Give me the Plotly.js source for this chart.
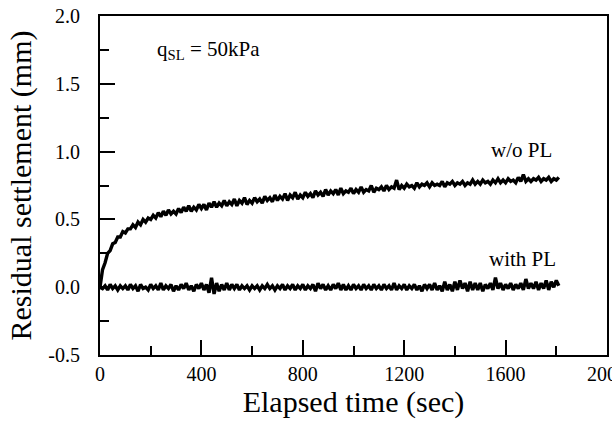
<!DOCTYPE html>
<html>
<head>
<meta charset="utf-8">
<script src="https://cdn.plot.ly/plotly-3.0.1.min.js"></script>
<style>html,body{margin:0;padding:0;background:#fff;}#chart{width:612px;height:421px;}</style>
</head>
<body>
<div id="chart"></div>
<script>
// Elapsed time (sec)
const timeSec = [
  0,10,20,30,40,50,60,70,80,90,
  100,110,120,130,140,150,160,170,180,190,
  200,210,220,230,240,250,260,270,280,290,
  300,310,320,330,340,350,360,370,380,390,
  400,410,420,430,440,450,460,470,480,490,
  500,510,520,530,540,550,560,570,580,590,
  600,610,620,630,640,650,660,670,680,690,
  700,710,720,730,740,750,760,770,780,790,
  800,810,820,830,840,850,860,870,880,890,
  900,910,920,930,940,950,960,970,980,990,
  1000,1010,1020,1030,1040,1050,1060,1070,1080,1090,
  1100,1110,1120,1130,1140,1150,1160,1170,1180,1190,
  1200,1210,1220,1230,1240,1250,1260,1270,1280,1290,
  1300,1310,1320,1330,1340,1350,1360,1370,1380,1390,
  1400,1410,1420,1430,1440,1450,1460,1470,1480,1490,
  1500,1510,1520,1530,1540,1550,1560,1570,1580,1590,
  1600,1610,1620,1630,1640,1650,1660,1670,1680,1690,
  1700,1710,1720,1730,1740,1750,1760,1770,1780,1790,
  1800,1810
];
// Residual settlement (mm) without PL
const withoutPL = [
  0.00,0.13,0.18,0.25,0.27,0.32,0.33,0.37,0.37,0.41,
  0.40,0.43,0.43,0.46,0.44,0.48,0.46,0.50,0.48,0.51,
  0.50,0.53,0.51,0.55,0.52,0.56,0.53,0.57,0.54,0.56,
  0.54,0.58,0.55,0.59,0.56,0.60,0.56,0.59,0.57,0.61,
  0.58,0.61,0.57,0.62,0.59,0.63,0.59,0.62,0.60,0.64,
  0.60,0.63,0.61,0.65,0.60,0.64,0.62,0.66,0.61,0.64,
  0.62,0.66,0.63,0.65,0.62,0.67,0.64,0.66,0.63,0.68,
  0.64,0.67,0.65,0.69,0.64,0.68,0.66,0.70,0.65,0.68,
  0.66,0.70,0.67,0.69,0.66,0.71,0.68,0.70,0.67,0.72,
  0.68,0.71,0.69,0.72,0.68,0.73,0.69,0.71,0.70,0.73,
  0.69,0.72,0.70,0.74,0.70,0.72,0.71,0.75,0.70,0.73,
  0.72,0.74,0.71,0.75,0.72,0.74,0.73,0.79,0.72,0.75,
  0.73,0.76,0.74,0.75,0.73,0.77,0.74,0.76,0.75,0.77,
  0.74,0.77,0.75,0.76,0.75,0.78,0.74,0.77,0.76,0.78,
  0.75,0.77,0.76,0.78,0.75,0.77,0.76,0.79,0.76,0.78,
  0.76,0.79,0.77,0.78,0.76,0.79,0.77,0.80,0.77,0.79,
  0.77,0.80,0.78,0.79,0.77,0.81,0.78,0.83,0.78,0.80,
  0.78,0.80,0.79,0.81,0.78,0.80,0.79,0.81,0.78,0.80,
  0.79,0.81
];
// Residual settlement (mm) with PL
const withPL = [
  0.00,-0.01,0.01,-0.02,0.02,-0.01,0.01,-0.02,0.01,-0.01,
  0.01,-0.02,0.02,-0.01,0.01,-0.03,0.02,-0.01,0.00,-0.02,
  0.02,-0.01,0.01,-0.02,0.03,-0.02,0.01,-0.01,0.02,-0.03,
  0.01,-0.02,0.02,-0.01,0.03,-0.02,0.01,-0.03,0.02,-0.01,
  0.03,-0.02,0.02,-0.04,0.07,-0.05,0.03,-0.03,0.02,-0.02,
  0.03,-0.02,0.02,-0.01,0.02,-0.02,0.01,-0.01,0.01,-0.02,
  0.01,-0.01,0.01,-0.02,0.01,-0.01,0.02,-0.01,0.01,-0.02,
  0.01,-0.01,0.02,-0.02,0.01,-0.01,0.02,-0.02,0.01,-0.01,
  0.02,-0.02,0.01,-0.01,0.02,-0.03,0.03,-0.01,0.02,-0.02,
  0.01,-0.02,0.02,-0.01,0.03,-0.02,0.02,-0.02,0.01,-0.02,
  0.02,-0.01,0.01,-0.02,0.02,-0.01,0.01,-0.02,0.02,-0.01,
  0.01,-0.02,0.02,-0.01,0.01,-0.02,0.03,-0.02,0.01,-0.01,
  0.02,-0.02,0.01,-0.01,0.02,-0.02,0.01,-0.03,0.02,-0.01,
  0.02,-0.02,0.03,-0.02,0.01,-0.03,0.04,-0.02,0.02,-0.03,
  0.04,-0.02,0.05,-0.01,0.03,-0.03,0.04,-0.02,0.03,-0.02,
  0.03,-0.03,0.02,-0.01,0.03,-0.02,0.07,-0.01,0.03,-0.02,
  0.02,-0.01,0.03,-0.02,0.02,-0.01,0.03,-0.02,0.06,-0.01,
  0.03,-0.01,0.04,-0.02,0.03,-0.01,0.05,-0.02,0.04,0.00,
  0.05,0.01
];
const xTickVals = [0,400,800,1200,1600,2000];
const xTickText = ['0','400','800','1200','1600','2000'];
const yTickVals = [-0.5,0.0,0.5,1.0,1.5,2.0];
const yTickText = ['-0.5','0.0','0.5','1.0','1.5','2.0'];

const FONT = 'Liberation Serif';

const traces = [
  {x: timeSec, y: withoutPL, mode: 'lines', name: 'w/o PL',
   line: {color: '#000', width: 3.4}, hoverinfo: 'skip'},
  {x: timeSec, y: withPL, mode: 'lines', name: 'with PL',
   line: {color: '#000', width: 3.4}, hoverinfo: 'skip'}
];

const layout = {
  width: 612, height: 421,
  margin: {l: 100, r: 5, t: 16, b: 66, pad: 0},
  paper_bgcolor: '#fff', plot_bgcolor: '#fff',
  showlegend: false,
  font: {family: FONT, color: '#000'},
  xaxis: {
    range: [0, 2000], showgrid: false, zeroline: false,
    showline: true, linecolor: '#000', linewidth: 2, mirror: true,
    ticks: 'inside', ticklen: 15, tickwidth: 2, tickcolor: '#000',
    tickmode: 'array', tickvals: xTickVals, ticktext: xTickText,
    ticklabeloverflow: 'allow',
    tickfont: {family: FONT, size: 20, color: '#000'},
    minor: {dtick: 200, ticks: 'inside', ticklen: 9, tickwidth: 2, tickcolor: '#000', showgrid: false},
    title: {text: 'Elapsed time (sec)', font: {family: FONT, size: 30, color: '#000'}, standoff: 2}
  },
  yaxis: {
    range: [-0.5, 2.0], showgrid: false, zeroline: false,
    showline: true, linecolor: '#000', linewidth: 2, mirror: true,
    ticks: 'inside', ticklen: 15, tickwidth: 2, tickcolor: '#000',
    tickmode: 'array', tickvals: yTickVals, ticktext: yTickText,
    tickfont: {family: FONT, size: 20, color: '#000'},
    ticklabelstandoff: 14,
    minor: {dtick: 0.25, ticks: 'inside', ticklen: 9, tickwidth: 2, tickcolor: '#000', showgrid: false},
    title: {text: 'Residual settlement (mm)', font: {family: FONT, size: 30, color: '#000'}, standoff: 8}
  },
  annotations: [
    {x: 215, y: 1.75, xref: 'x', yref: 'y', xanchor: 'left', yanchor: 'middle', showarrow: false,
     text: 'q<sub>SL</sub> = 50kPa', font: {family: FONT, size: 21, color: '#000'}},
    {x: 1535, y: 1.01, xref: 'x', yref: 'y', xanchor: 'left', yanchor: 'middle', showarrow: false,
     text: 'w/o PL', font: {family: FONT, size: 21, color: '#000'}},
    {x: 1528, y: 0.21, xref: 'x', yref: 'y', xanchor: 'left', yanchor: 'middle', showarrow: false,
     text: 'with PL', font: {family: FONT, size: 21, color: '#000'}}
  ]
};

Plotly.newPlot('chart', traces, layout, {staticPlot: true, displayModeBar: false});
</script>
</body>
</html>
